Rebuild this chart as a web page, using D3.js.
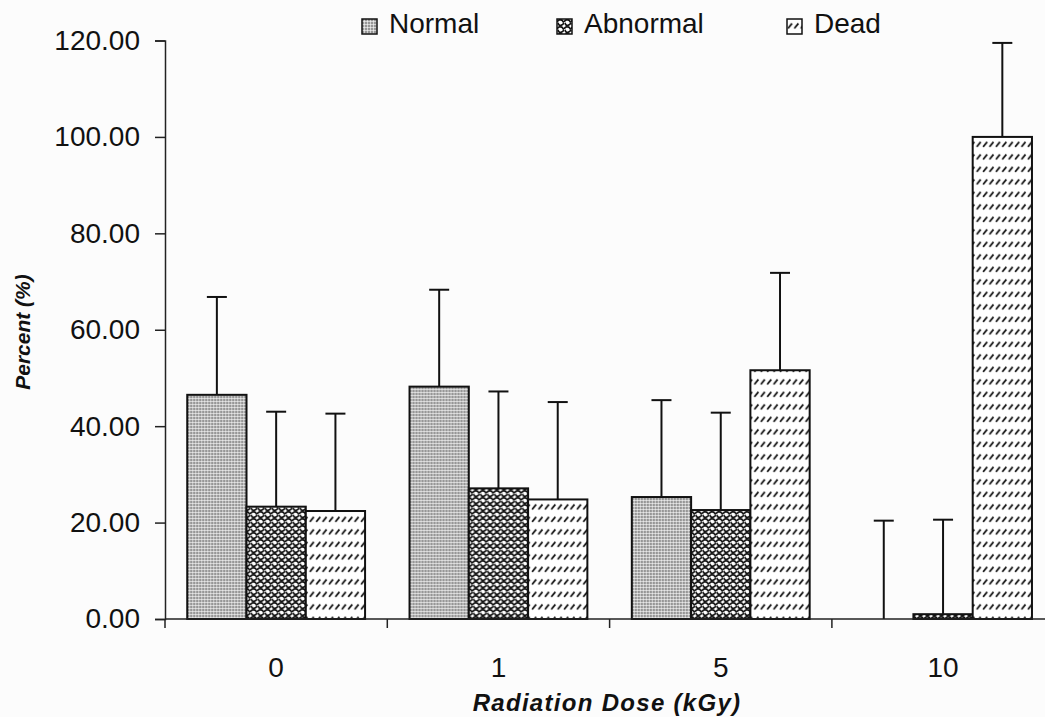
<!DOCTYPE html>
<html>
<head>
<meta charset="utf-8">
<script src="https://cdn.jsdelivr.net/npm/d3@7"></script>
<style>
  html, body { margin: 0; padding: 0; background: #fcfcfc; }
  svg { display: block; }
  text { font-family: "Liberation Sans", Arial, sans-serif; fill: #111; }
</style>
</head>
<body>
<svg id="chart" width="1045" height="717"></svg>
<script>
// Doses (kGy) on the category axis
const doses = ["0", "1", "5", "10"];
// Outcome series
const seriesNames = ["Normal", "Abnormal", "Dead"];
// Mean percentage per dose, for each outcome
const normalValues   = [46.5, 48.2, 25.3, 0.0];
const abnormalValues = [23.3, 27.1, 22.6, 1.0];
const deadValues     = [22.4, 24.8, 51.6, 100.0];
// Standard deviation per dose (drawn as upward error bars)
const normalErrors   = [20.3, 20.1, 20.1, 20.4];
const abnormalErrors = [19.7, 20.1, 20.2, 19.6];
const deadErrors     = [20.2, 20.2, 20.2, 19.5];
// Y tick values
const yTicks = [0, 20, 40, 60, 80, 100, 120];

const valuesBySeries = { Normal: normalValues, Abnormal: abnormalValues, Dead: deadValues };
const errorsBySeries = { Normal: normalErrors, Abnormal: abnormalErrors, Dead: deadErrors };

const rows = [];
doses.forEach((d, i) => {
  seriesNames.forEach(s => {
    rows.push({ dose: d, series: s, value: valuesBySeries[s][i], err: errorsBySeries[s][i] });
  });
});

const svg = d3.select("#chart");
const plotLeft = 165, plotBottom = 619, plotTop = 40.5;
const step = 222.3;

// Fill patterns
const defs = svg.append("defs");

// fine grey dot screen
const pNormal = defs.append("pattern").attr("id", "pat-Normal")
  .attr("patternUnits", "userSpaceOnUse").attr("width", 3).attr("height", 3);
pNormal.append("rect").attr("width", 3).attr("height", 3).attr("fill", "#969696");
pNormal.append("rect").attr("x", 2).attr("width", 1).attr("height", 3).attr("fill", "#fff").attr("opacity", 0.55);
pNormal.append("rect").attr("y", 2).attr("width", 3).attr("height", 1).attr("fill", "#fff").attr("opacity", 0.55);

// black short strokes in mixed directions on white
const pAbn = defs.append("pattern").attr("id", "pat-Abnormal")
  .attr("patternUnits", "userSpaceOnUse").attr("width", 7).attr("height", 7);
pAbn.append("rect").attr("width", 7).attr("height", 7).attr("fill", "#fff");
pAbn.append("path")
  .attr("d", "M0.6,2.2 Q1.6,0.6 3.0,0.9 M4.0,0.9 Q5.6,1.4 6.4,3.0 M1.2,4.4 Q1.4,6.0 2.8,6.4 M4.2,6.2 Q5.8,6.0 6.4,4.6")
  .attr("stroke", "#111").attr("stroke-width", 1.7).attr("stroke-linecap", "round").attr("fill", "none");

// rows of short forward slashes
const pDead = defs.append("pattern").attr("id", "pat-Dead")
  .attr("patternUnits", "userSpaceOnUse").attr("width", 6.4).attr("height", 12.5);
pDead.append("rect").attr("width", 6.4).attr("height", 12.5).attr("fill", "#fff");
pDead.append("path").attr("d", "M1.0,9.4 L5.0,4.4")
  .attr("stroke", "#111").attr("stroke-width", 1.8).attr("fill", "none");

// Scales
const x0 = d3.scaleBand().domain(doses)
  .range([plotLeft, plotLeft + step * doses.length])
  .paddingInner(0.2).paddingOuter(0.1);
const x1 = d3.scaleBand().domain(seriesNames).range([0, x0.bandwidth()]);
const y = d3.scaleLinear().domain([0, 120]).range([plotBottom, plotTop]);

// Y axis
const yAxis = svg.append("g").attr("transform", `translate(${plotLeft},0)`)
  .call(d3.axisLeft(y).tickValues(yTicks).tickFormat(d3.format(".2f")).tickSize(10).tickPadding(15));
yAxis.select(".domain").attr("stroke", "#222").attr("stroke-width", 1.5);
yAxis.selectAll(".tick line").attr("stroke", "#222").attr("stroke-width", 1.5);
yAxis.selectAll(".tick text").attr("font-size", 28).attr("font-family", "Liberation Sans, Arial, sans-serif").attr("fill", "#111");

// Bars
const groups = svg.append("g").selectAll("g").data(doses).join("g")
  .attr("transform", d => `translate(${x0(d)},0)`);

groups.selectAll("rect").data(d => rows.filter(r => r.dose === d)).join("rect")
  .attr("x", r => x1(r.series))
  .attr("y", r => y(r.value))
  .attr("width", x1.bandwidth())
  .attr("height", r => y(0) - y(r.value))
  .attr("fill", r => `url(#pat-${r.series})`)
  .attr("stroke", r => r.value > 0 ? "#111" : "none")
  .attr("stroke-width", 2);

// Error bars (upper whisker with cap)
const capHalf = 10;
const eb = groups.selectAll("g.err").data(d => rows.filter(r => r.dose === d)).join("g").attr("class", "err");
eb.append("line")
  .attr("x1", r => x1(r.series) + x1.bandwidth() / 2)
  .attr("x2", r => x1(r.series) + x1.bandwidth() / 2)
  .attr("y1", r => y(r.value))
  .attr("y2", r => y(r.value + r.err))
  .attr("stroke", "#111").attr("stroke-width", 2);
eb.append("line")
  .attr("x1", r => x1(r.series) + x1.bandwidth() / 2 - capHalf)
  .attr("x2", r => x1(r.series) + x1.bandwidth() / 2 + capHalf)
  .attr("y1", r => y(r.value + r.err))
  .attr("y2", r => y(r.value + r.err))
  .attr("stroke", "#111").attr("stroke-width", 2);

// X axis: baseline with ticks between categories
const xg = svg.append("g");
xg.append("line").attr("x1", plotLeft).attr("x2", 1045).attr("y1", plotBottom).attr("y2", plotBottom)
  .attr("stroke", "#222").attr("stroke-width", 1.5);
const boundaries = doses.map((d, i) => plotLeft + step * i);
xg.selectAll("line.tick").data(boundaries).join("line").attr("class", "tick")
  .attr("x1", d => d).attr("x2", d => d).attr("y1", plotBottom).attr("y2", plotBottom + 9)
  .attr("stroke", "#222").attr("stroke-width", 1.5);
xg.selectAll("text").data(doses).join("text")
  .attr("x", d => x0(d) + x0.bandwidth() / 2)
  .attr("y", 677)
  .attr("text-anchor", "middle")
  .attr("font-size", 28)
  .text(d => d);

// Axis titles
svg.append("text")
  .attr("x", 607).attr("y", 711)
  .attr("text-anchor", "middle")
  .attr("font-size", 24).attr("font-weight", "bold").attr("font-style", "italic")
  .attr("letter-spacing", 1.3)
  .text("Radiation Dose (kGy)");

svg.append("text")
  .attr("transform", "translate(30,332) rotate(-90)")
  .attr("text-anchor", "middle")
  .attr("font-size", 21).attr("font-weight", "bold").attr("font-style", "italic")
  .text("Percent (%)");

// Legend
const legendX = { Normal: 362, Abnormal: 557, Dead: 787 };
const lg = svg.append("g").selectAll("g").data(seriesNames).join("g")
  .attr("transform", s => `translate(${legendX[s]},19)`);
lg.append("rect").attr("width", 15).attr("height", 15)
  .attr("fill", s => `url(#pat-${s})`).attr("stroke", "#111").attr("stroke-width", 1.5);
lg.append("text").attr("x", 27).attr("y", 14).attr("font-size", 28).text(s => s);
</script>
</body>
</html>
